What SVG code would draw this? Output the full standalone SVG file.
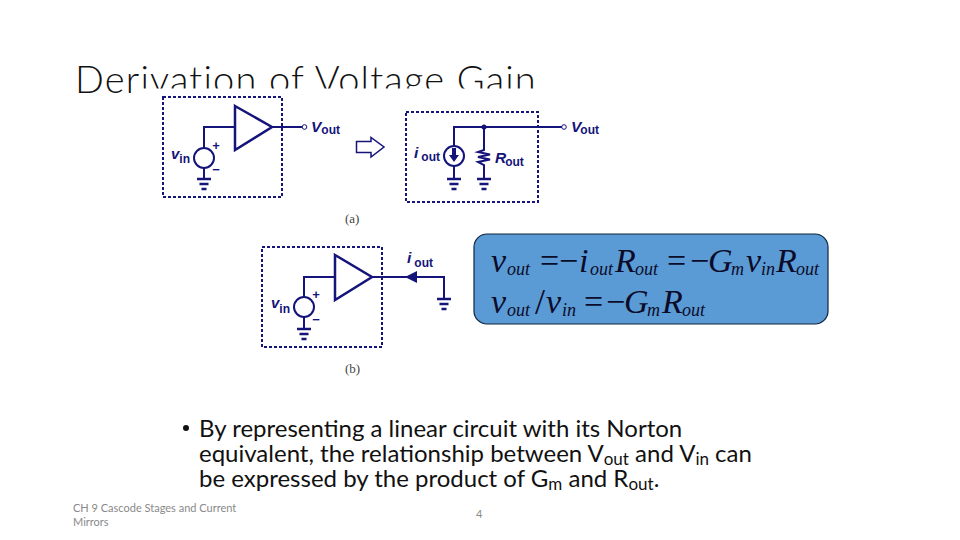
<svg xmlns="http://www.w3.org/2000/svg" width="960" height="540" viewBox="0 0 960 540">
<style>
.w{fill:none;stroke:#14147a;stroke-width:2}
.a{fill:none;stroke:#14147a;stroke-width:2.500}
.d{fill:none;stroke:#14147a;stroke-width:2;stroke-dasharray:3 2}
.g{fill:#14147a}
.l{font-family:"Liberation Sans",Arial,sans-serif;font-weight:bold;fill:#14147a}
.t{font-family:Lato,"Open Sans",sans-serif;fill:#111}
.m{font-family:"Liberation Serif","Times New Roman",serif;font-style:italic;fill:#0b0b2a}
.n{font-family:"Liberation Serif",serif;font-style:normal}
.c{font-family:"Liberation Serif",serif;font-size:13px;fill:#444}
.f{font-family:Lato,sans-serif;font-size:11px;fill:#898989}
.s{font-size:12px;font-style:normal}
</style>
<defs>
<g id="gnd"><path d="M-7 0H7M-4.500 5H4.500M-2.500 10H2.500" fill="none" stroke="#14147a" stroke-width="2.500"/></g>
</defs>
<text id="title" class="t" x="75" y="93" font-size="38" font-weight="300" letter-spacing="1.180">Derivation of Voltage Gain</text>
<rect x="143" y="88.500" width="400" height="12" fill="#fff"/>
<g id="connectors">
<path class="w" d="M235 127H204V148M204 168V179M272 127H302"/>
<path class="w" d="M562 127H454V146M454 166V179M484 127V150L478 152 490 154.500 478 157 490 159.500 478 162 484 165V179"/>
<path class="w" d="M335 277H304V297M304 317V329M372 277H444V298"/>
<path class="g" d="M405 277L417 271V283Z"/>
</g>
<g id="amp-a"><path class="a" d="M235 106L272 127 235 150Z"/></g>
<rect id="box-a1" class="d" x="163" y="97" width="119" height="100"/>
<g id="term-a1"><circle cx="304.500" cy="127" r="2.300" fill="#fff" stroke="#14147a"/><text class="l" x="311" y="132" font-size="15.500" font-style="italic">V<tspan class="s" dy="2">out</tspan></text></g>
<g id="vin-a"><circle cx="204" cy="158" r="10" class="w"/><text class="l" x="171" y="159" font-size="15" font-style="italic">v<tspan class="s" dy="4">in</tspan></text><text class="l" x="216" y="150" font-size="13" text-anchor="middle" font-weight="normal">+</text><text class="l" x="216" y="174" font-size="13" text-anchor="middle">−</text><use href="#gnd" x="204" y="179"/></g>
<g id="arrow"><path d="M356.500 141.500H371V137.500L384 147 371 157V152.500H356.500Z" fill="#fff" stroke="#14147a" stroke-width="1.500"/></g>
<rect id="box-a2" class="d" x="406" y="112" width="132" height="90"/>
<g id="term-a2"><circle cx="564" cy="127" r="2.300" fill="#fff" stroke="#14147a"/><text class="l" x="571" y="132" font-size="15.500" font-style="italic" font-weight="normal">V<tspan class="s" dy="2" dx="-1">out</tspan></text></g>
<g id="iout-a"><circle cx="454" cy="156" r="10" class="w"/><path class="g" d="M449 155H452V148H456V155H459L454 162Z"/><text class="l" x="414" y="158" font-size="15.500" font-style="italic">i<tspan class="s" dx="3" dy="3">out</tspan></text><use href="#gnd" x="454" y="179"/></g>
<g id="rout-a"><circle cx="484" cy="127" r="2.500" class="g"/><text class="l" x="495" y="163" font-size="15.500" font-style="italic">R<tspan class="s" dy="3" dx="-1">out</tspan></text><use href="#gnd" x="484" y="179"/></g>
<text id="cap-a" class="c" x="345" y="223">(a)</text>
<g id="amp-b"><path class="a" d="M335 255L372 277 335 300Z"/></g>
<rect id="box-b" class="d" x="262" y="247" width="120" height="100"/>
<g id="vin-b"><circle cx="304" cy="307" r="10" class="w"/><text class="l" x="271" y="308" font-size="15" font-style="italic">v<tspan class="s" dy="5">in</tspan></text><text class="l" x="316" y="299" font-size="13" text-anchor="middle" font-weight="normal">+</text><text class="l" x="316" y="324" font-size="13" text-anchor="middle">−</text><use href="#gnd" x="304" y="329"/></g>
<g id="iout-b"><text class="l" x="407" y="263" font-size="15.500" font-style="italic">i<tspan class="s" dx="3" dy="4">out</tspan></text><use href="#gnd" x="444" y="299"/></g>
<text id="cap-b" class="c" x="345" y="373">(b)</text>
<g id="equations">
<rect x="474" y="234" width="354" height="90" rx="13" fill="#5b9bd5" stroke="#10253f" stroke-width="1.200"/>
<g class="m" font-size="34">
<text x="491" y="272">v</text><text x="507" y="275" font-size="18">out</text>
<text class="n" x="540" y="272">=</text><text class="n" x="559" y="272">−</text><text x="579" y="272">i</text><text x="590" y="275" font-size="18">out</text>
<text x="615" y="272">R</text><text x="635" y="275" font-size="18">out</text>
<text class="n" x="667" y="272">=</text><text class="n" x="690" y="272">−</text><text x="708" y="272">G</text><text x="731" y="275" font-size="18">m</text>
<text x="746" y="272">v</text><text x="761" y="275" font-size="18">in</text>
<text x="776" y="272">R</text><text x="796" y="275" font-size="18">out</text>
<text x="491" y="313">v</text><text x="507" y="316" font-size="18">out</text>
<text class="n" x="535" y="314" font-size="36">/</text><text x="546" y="313">v</text><text x="562" y="316" font-size="18">in</text>
<text class="n" x="584" y="313">=</text><text class="n" x="606" y="313">−</text><text x="624" y="313">G</text><text x="647" y="316" font-size="18">m</text>
<text x="662" y="313">R</text><text x="682" y="316" font-size="18">out</text>
</g>
</g>
<g id="body" class="t" font-size="24">
<circle cx="186" cy="428" r="3" fill="#111"/>
<text x="199" y="437">By representing a linear circuit with its Norton</text>
<text x="199" y="462">equivalent, the relationship between V<tspan font-size="17" dy="3">out</tspan><tspan dy="-3"> and V</tspan><tspan font-size="17" dy="3">in</tspan><tspan dy="-3"> can</tspan></text>
<text x="199" y="487">be expressed by the product of G<tspan font-size="17" dy="3">m</tspan><tspan dy="-3"> and R</tspan><tspan font-size="17" dy="3">out</tspan><tspan dy="-3">.</tspan></text>
</g>
<g id="footer" class="f">
<text x="73" y="512">CH 9  Cascode Stages and Current</text>
<text x="73" y="526">Mirrors</text>
<text x="476" y="518">4</text>
</g>
</svg>
